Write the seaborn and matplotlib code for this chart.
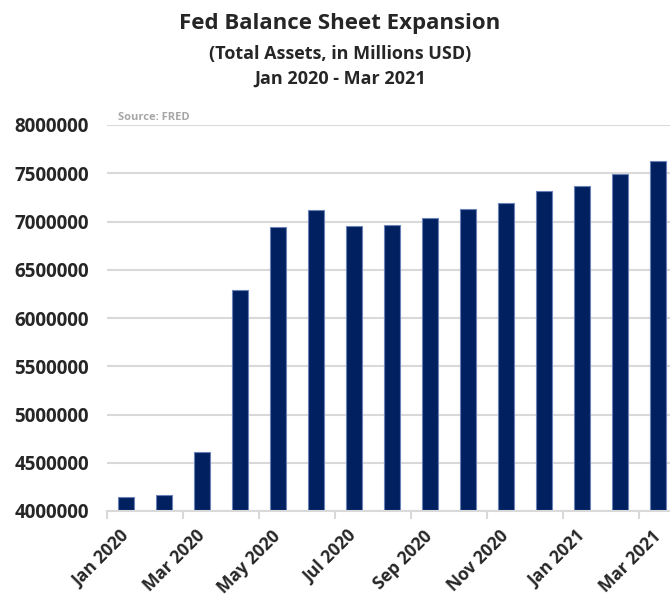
# Fed balance sheet bar chart (monthly total assets)
import pandas as pd
import matplotlib.pyplot as plt
import seaborn as sns

# Data
months = ["Jan 2020", "Feb 2020", "Mar 2020", "Apr 2020", "May 2020", "Jun 2020",
          "Jul 2020", "Aug 2020", "Sep 2020", "Oct 2020", "Nov 2020", "Dec 2020",
          "Jan 2021", "Feb 2021", "Mar 2021"]
total_assets = [4148000, 4162000, 4608000, 6288000, 6940000, 7123000,
                6950000, 6968000, 7040000, 7133000, 7188000, 7313000,
                7364000, 7492000, 7630000]
y_ticks = [4000000, 4500000, 5000000, 5500000, 6000000, 6500000, 7000000, 7500000, 8000000]

df = pd.DataFrame({"month": months, "assets": total_assets})

sns.set_style("white")
plt.rcParams['font.family'] = ['Open Sans', 'DejaVu Sans']

fig = plt.figure(figsize=(6.7, 5.98), dpi=100)
ax = fig.add_axes([107 / 670, 1 - 511 / 598, 570 / 670, 386 / 598])

sns.barplot(data=df, x="month", y="assets", ax=ax, width=0.4, color="#002060",
            saturation=1, edgecolor="#6a82b8", linewidth=0.8)

ax.set_ylim(4000000, 8000000)
ax.set_xlim(-0.5, len(months) - 0.5)
ax.set_yticks(y_ticks)
ax.set_yticklabels([str(v) for v in y_ticks], fontsize=13.5, fontweight="bold")
ax.yaxis.grid(True, color="#d9d9d9", linewidth=1.5)
ax.set_axisbelow(True)
ax.tick_params(axis="y", length=0, pad=13)

# labels every other month, tick marks on category boundaries
ax.set_xticks(range(0, len(months), 2))
ax.set_xticklabels(months[::2], rotation=45, ha="right", va="center",
                   rotation_mode="anchor", fontsize=12.5, fontweight="bold")
ax.set_xticks([i - 0.5 for i in range(0, len(months) + 1, 2)], minor=True)
ax.tick_params(axis="x", which="major", length=0, pad=16)
ax.tick_params(axis="x", which="minor", length=6, width=1.5, color="#d9d9d9", bottom=True)

for s in ["top", "right", "left"]:
    ax.spines[s].set_visible(False)
ax.spines["bottom"].set_color("#d9d9d9")
ax.spines["bottom"].set_linewidth(1.5)
ax.set_xlabel("")
ax.set_ylabel("")

fig.text(0.507, 0.960, "Fed Balance Sheet Expansion", ha="center", va="center",
         fontsize=16, fontweight="bold")
fig.text(0.507, 0.910, "(Total Assets, in Millions USD)", ha="center", va="center",
         fontsize=13, fontweight="bold")
fig.text(0.507, 0.868, "Jan 2020 - Mar 2021", ha="center", va="center",
         fontsize=13, fontweight="bold")
ax.text(0.02, 1.006, "Source: FRED", transform=ax.transAxes, fontsize=8,
        fontweight="bold", color="#a6a6a6", va="bottom")

fig.savefig("out.png", dpi=100)
